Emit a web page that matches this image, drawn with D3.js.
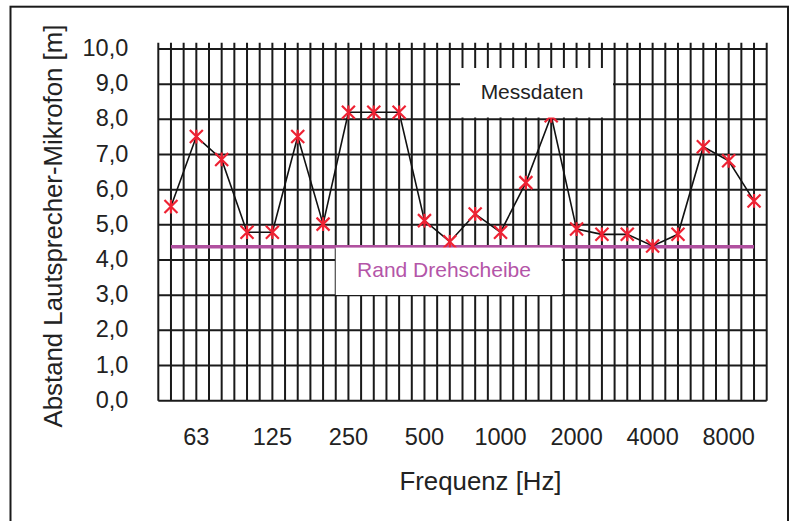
<!DOCTYPE html>
<meta charset="utf-8" />
<style>
  body { margin: 0; background: #fff; }
  svg { display: block; }
  text { font-family: "Liberation Sans", Arial, sans-serif; fill: #222; }
  .grid line { stroke: #1a1a1a; stroke-width: 2px; }
  .tick-label { font-size: 23.5px; }
  .axis-title { font-size: 25.8px; }
  .legend-label { font-size: 21px; }
  .data-line { fill: none; stroke: #111; stroke-width: 1.6px; }
  .marker { fill: none; stroke: #ee2233; stroke-width: 2.2px; }
</style>
<body>
<script src="https://d3js.org/d3.v7.min.js"></script>
<script>
  // third-octave bands, distance in metres
  var frequencies = ['50', '63', '80', '100', '125', '160', '200', '250', '315', '400', '500', '630',
    '800', '1000', '1250', '1600', '2000', '2500', '3150', '4000', '5000', '6300', '8000', '10000'];
  var messdaten = [5.52, 7.51, 6.86, 4.79, 4.79, 7.51, 5.02, 8.2, 8.2, 8.2, 5.12, 4.52,
    5.31, 4.79, 6.2, 8.1, 4.88, 4.73, 4.73, 4.4, 4.73, 7.22, 6.82, 5.68];
  var randDrehscheibe = 4.38;
  var xTickLabels = ['63', '125', '250', '500', '1000', '2000', '4000', '8000'];
  var yTicks = [0, 1, 2, 3, 4, 5, 6, 7, 8, 9, 10];

  var W = 793, H = 521;
  var margin = { top: 49, right: 26.3, bottom: 120.3, left: 158.3 },
    width = W - margin.left - margin.right,
    height = H - margin.top - margin.bottom;

  var de = d3.formatLocale({ decimal: ',', thousands: '.', grouping: [3], currency: ['', ' €'] });
  var fmt = de.format('.1f');

  var x = d3.scaleBand().domain(frequencies).range([0, width]);
  var y = d3.scaleLinear().domain([0, 10]).range([height, 0]);
  var cx = function (f) { return x(f) + x.bandwidth() / 2; };

  var svg = d3.select('body').append('svg')
    .attr('width', W)
    .attr('height', H);

  // outer frame
  svg.append('rect')
    .attr('x', 10.5).attr('y', 6.7)
    .attr('width', 777.5).attr('height', 530)
    .attr('fill', 'none').attr('stroke', '#1a1a1a').attr('stroke-width', 2);

  var g = svg.append('g')
    .attr('transform', 'translate(' + margin.left + ',' + margin.top + ')');

  // vertical lines at every band edge and every band centre
  var vx = [];
  frequencies.forEach(function (f) { vx.push(x(f), cx(f)); });
  vx.push(width);
  g.append('g').attr('class', 'grid')
    .selectAll('line').data(vx).enter().append('line')
    .attr('x1', function (d) { return d; })
    .attr('x2', function (d) { return d; })
    .attr('y1', -6.3)
    .attr('y2', height);

  // horizontal gridlines
  g.append('g').attr('class', 'grid')
    .selectAll('line').data(yTicks).enter().append('line')
    .attr('x1', 0).attr('x2', width)
    .attr('y1', function (d) { return y(d); })
    .attr('y2', function (d) { return y(d); });

  // y tick labels
  g.selectAll('.ylab').data(yTicks).enter().append('text')
    .attr('class', 'tick-label')
    .attr('x', -30)
    .attr('y', function (d) { return y(d); })
    .attr('dy', '0.3em')
    .attr('text-anchor', 'end')
    .text(function (d) { return fmt(d); });

  // x tick labels (octave bands only)
  g.selectAll('.xlab').data(xTickLabels).enter().append('text')
    .attr('class', 'tick-label')
    .attr('x', function (d) { return cx(d); })
    .attr('y', height + 44.5)
    .attr('text-anchor', 'middle')
    .text(function (d) { return d; });

  // axis titles
  g.append('text')
    .attr('class', 'axis-title')
    .attr('x', cx('1000') - 20)
    .attr('y', height + 89)
    .attr('text-anchor', 'middle')
    .text('Frequenz [Hz]');

  svg.append('text')
    .attr('class', 'axis-title')
    .attr('transform', 'translate(62,226) rotate(-90)')
    .attr('text-anchor', 'middle')
    .text('Abstand Lautsprecher-Mikrofon [m]');

  // turntable edge
  g.append('line')
    .attr('x1', cx(frequencies[0]))
    .attr('x2', cx(frequencies[frequencies.length - 1]))
    .attr('y1', y(randDrehscheibe))
    .attr('y2', y(randDrehscheibe))
    .attr('stroke', '#b0509f')
    .attr('stroke-width', 3.5);

  // measured data
  var line = d3.line()
    .x(function (d, i) { return cx(frequencies[i]); })
    .y(function (d) { return y(d); });

  g.append('path')
    .datum(messdaten)
    .attr('class', 'data-line')
    .attr('d', line);

  var s = 6.5;
  var star = 'M' + -s + ',' + -s + 'L' + s + ',' + s +
    'M' + -s + ',' + s + 'L' + s + ',' + -s +
    'M0,' + -s * 1.05 + 'L0,' + s * 1.05;
  g.selectAll('.marker').data(messdaten).enter().append('path')
    .attr('class', 'marker')
    .attr('transform', function (d, i) {
      return 'translate(' + cx(frequencies[i]) + ',' + y(d) + ')';
    })
    .attr('d', star);

  // data labels (boxes over the grid)
  svg.append('rect')
    .attr('x', 460).attr('y', 68).attr('width', 153).attr('height', 49.5)
    .attr('fill', '#fff');
  svg.append('text')
    .attr('class', 'legend-label')
    .attr('x', 532).attr('y', 99)
    .attr('text-anchor', 'middle')
    .text('Messdaten');

  svg.append('rect')
    .attr('x', 335.7).attr('y', 247.6).attr('width', 226).attr('height', 47.4)
    .attr('fill', '#fff');
  svg.append('text')
    .attr('class', 'legend-label')
    .attr('x', 444).attr('y', 277)
    .attr('text-anchor', 'middle')
    .style('fill', '#b455a8')
    .text('Rand Drehscheibe');
</script>
</body>
